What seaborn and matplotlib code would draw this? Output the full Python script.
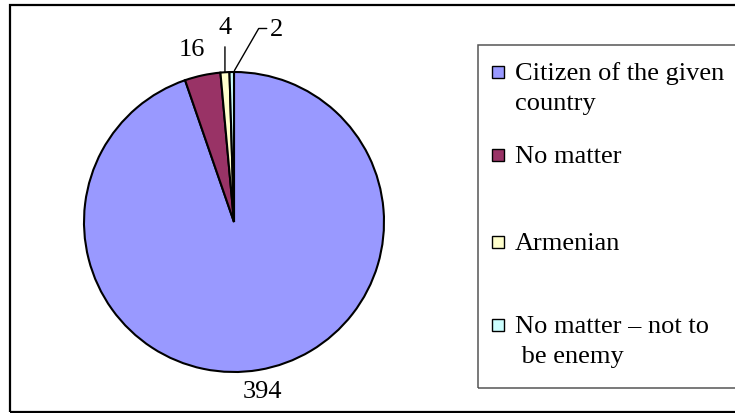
import matplotlib
matplotlib.use("Agg")
import matplotlib.pyplot as plt
import seaborn as sns
import numpy as np
from matplotlib.patches import Rectangle

categories = ["Citizen of the given\ncountry", "No matter", "Armenian", "No matter – not to\n be enemy"]
values = [394, 16, 4, 2]
colors = ["#9999FF", "#993366", "#FFFFCC", "#CCFFFF"]

sns.set_theme(style="white")
plt.rcParams['font.family'] = ['Liberation Serif', 'DejaVu Serif']
plt.rcParams['text.color'] = 'black'

W, H = 735, 414
fig = plt.figure(figsize=(W / 100, H / 100), dpi=100)
fig.patch.set_facecolor("white")

# pie geometry (pixels)
cx, cy, r = 234, 223, 150
ax = fig.add_axes([(cx - r) / W, (H - cy - r) / H, 2 * r / W, 2 * r / H])
wedges, _ = ax.pie(values, colors=colors, startangle=90, counterclock=False, radius=1,
                   wedgeprops=dict(edgecolor="black", linewidth=1.5))
ax.set_xlim(-1, 1)
ax.set_ylim(-1, 1)
ax.set_aspect("equal")
ax.axis("off")

fs = 19


def mid(w):
    a = np.deg2rad((w.theta1 + w.theta2) / 2)
    return np.cos(a), np.sin(a)


c, s = mid(wedges[0])
ax.text(1.14 * c, 1.14 * s, str(values[0]), ha="center", va="center", fontsize=fs,
        color="black", clip_on=False)
c, s = mid(wedges[1])
ax.text(1.2 * c - 0.03, 1.2 * s - 0.02, str(values[1]), ha="center", va="center", fontsize=fs,
        color="black", clip_on=False)
c, s = mid(wedges[2])
ax.annotate(str(values[2]), xy=(c, s), xytext=(c, 1.30), ha="center", va="center", fontsize=fs,
            color="black", annotation_clip=False,
            arrowprops=dict(arrowstyle="-", color="black", lw=1, shrinkA=4, shrinkB=0))
c, s = mid(wedges[3])
ax.annotate(str(values[3]), xy=(0.003, 1.01), xytext=(0.24, 1.29), ha="left", va="center",
            fontsize=fs, color="black", annotation_clip=False,
            arrowprops=dict(arrowstyle="-", color="black", lw=1, shrinkA=0, shrinkB=0,
                            connectionstyle="angle,angleA=0,angleB=60"))

# outer border
fig.patches.append(Rectangle((9.5 / W, 1.5 / H), (W + 20) / W, (412.5 - 5.5) / H,
                             transform=fig.transFigure, fill=False, edgecolor="black", lw=1.6))

# legend frame
leg_left, leg_top, leg_bottom = 478, 46, 389
fig.patches.append(Rectangle((leg_left / W, (H - leg_bottom) / H), (W + 20 - leg_left) / W,
                             (leg_bottom - leg_top) / H, transform=fig.transFigure, fill=False,
                             edgecolor="#555555", lw=1.1))
baselines = [80, 163, 250, 333]
line_gap = 30
for lab, col, yb in zip(categories, colors, baselines):
    ym = yb - 7
    fig.patches.append(Rectangle(((498 - 6) / W, (H - ym - 6) / H), 12 / W, 12 / H, facecolor=col,
                                 edgecolor="black", lw=1, transform=fig.transFigure))
    for i, line in enumerate(lab.split("\n")):
        fig.text(515 / W, (H - yb - i * line_gap) / H, line, ha="left", va="baseline",
                 fontsize=fs, color="black")

fig.savefig("out.png", dpi=100)
